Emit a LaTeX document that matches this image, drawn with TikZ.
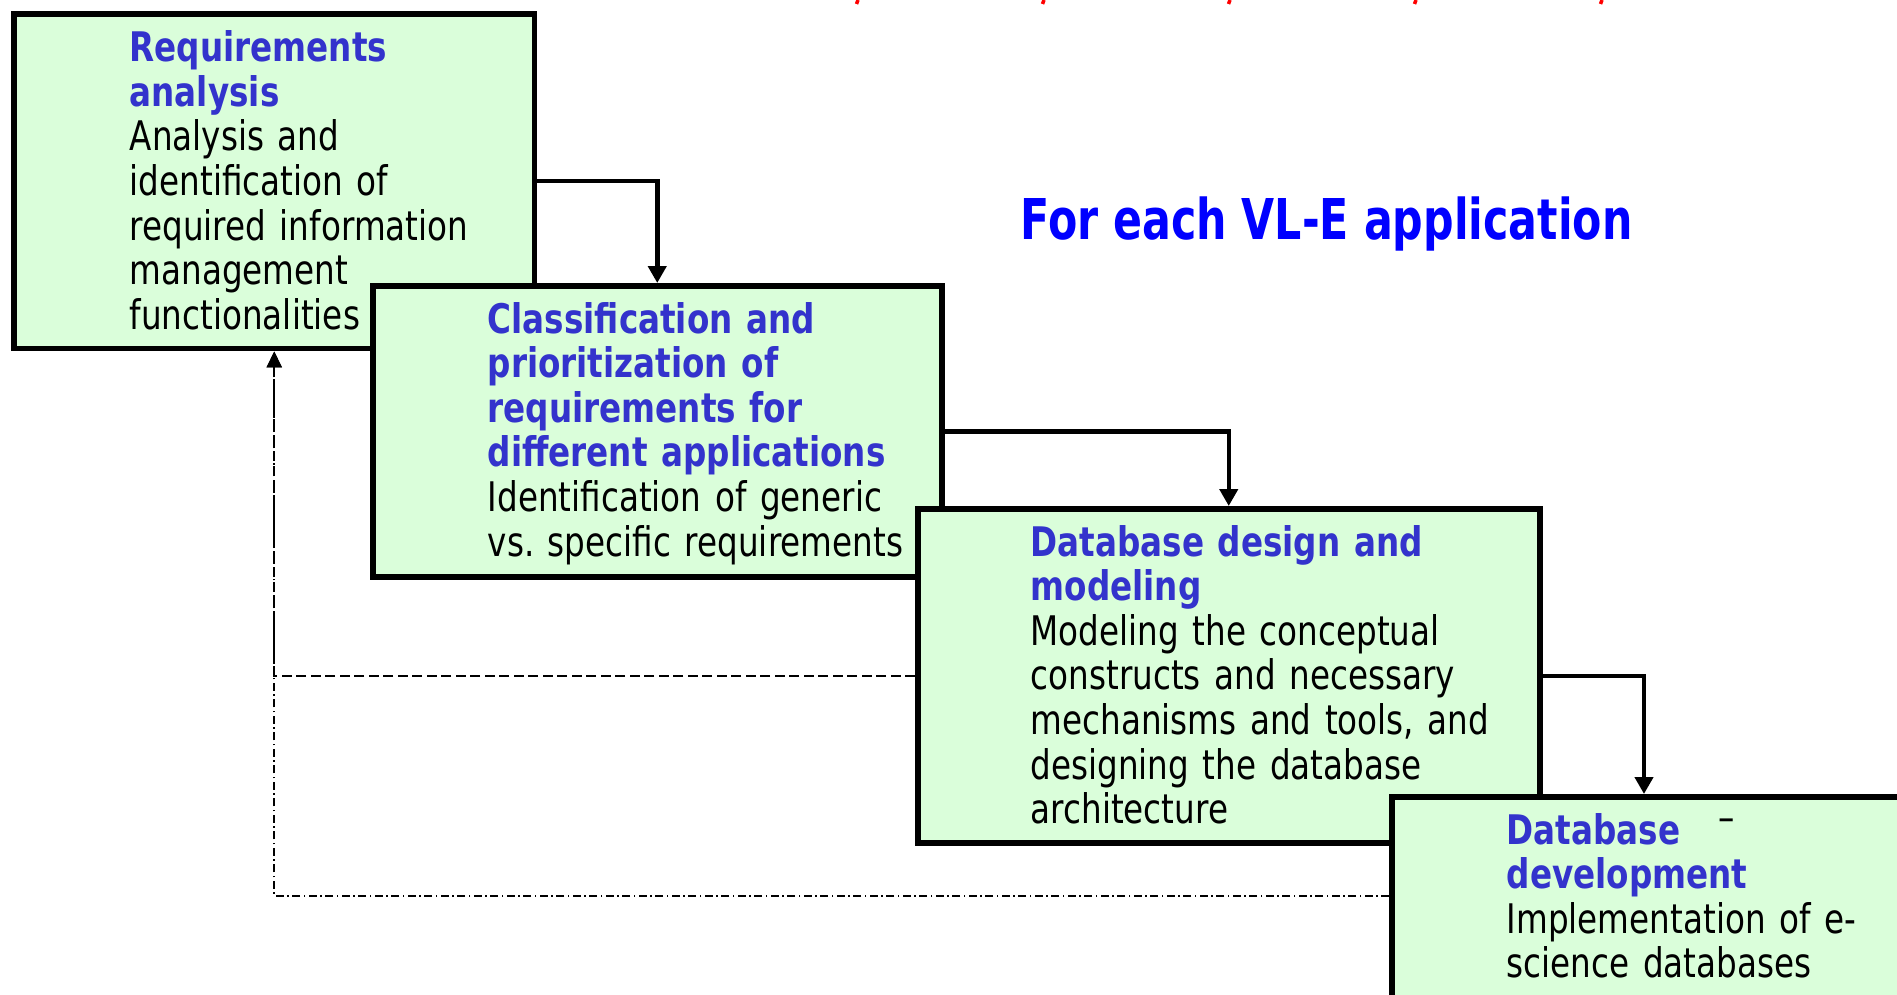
\documentclass[tikz,border=0pt]{standalone}
\usepackage{fontspec}
\setmainfont{DejaVu Sans}[FakeStretch=0.8]
\newfontfamily\titlefont{DejaVu Sans}[FakeStretch=0.76]
\usetikzlibrary{arrows.meta}

\definecolor{boxgreen}{RGB}{218,254,218}
\definecolor{headblue}{RGB}{51,51,204}
\definecolor{titleblue}{RGB}{0,0,255}
\definecolor{markred}{RGB}{255,0,0}
\newcommand{\stagehead}[1]{\textcolor{headblue}{\textbf{#1}}}
\frenchspacing

\begin{document}
\begin{tikzpicture}[x=0.1mm, y=-0.1mm,
		stage/.style={shape=rectangle, draw, line width=0.55mm, fill=boxgreen, anchor=north west, inner sep=0pt},
		txt/.style={anchor=base west, align=left, text width=50mm, inner sep=0pt, font=\fontsize{11.6}{12.7}\selectfont},
		flow/.style={line width=0.45mm, -{Triangle[width=1.8mm,length=1.7mm]}},
		back/.style={line width=0.2mm, -{Triangle[width=1.5mm,length=1.6mm]}},
		loopdash/.style={dash pattern=on 1mm off 0.45mm},
		loopdashdot/.style={dash pattern=on 0.8mm off 0.35mm on 0.15mm off 0.35mm}]
	\useasboundingbox (0,0) rectangle (1897,995);
	\clip (0,0) rectangle (1897,995);

	% bits of the red line above
	\foreach \x in {857,1043,1229,1415,1601}
		\draw[markred, line width=0.35mm] (\x+1,0) -- (\x-0.5,4);

	\node[anchor=base west, inner sep=0pt, text=titleblue, font=\titlefont\fontsize{16}{19}\selectfont\bfseries] (title) at (1020,239) {For each VL-E application};

	% stages
	\node[stage, minimum width=52.1mm, minimum height=33.5mm] (req) at (11,11) {};
	\node[txt] (reqtxt) at (129,61.5) {\stagehead{Requirements}\\\stagehead{analysis}\\Analysis and\\identification of\\required information\\management\\functionalities};

	\node[stage, minimum width=56.9mm, minimum height=29.1mm] (cls) at (370,283) {};
	\node[txt] (clstxt) at (487,333) {\stagehead{Classification and}\\\stagehead{prioritization of}\\\stagehead{requirements for}\\\stagehead{different applications}\\Identification of generic\\vs. specific requirements};

	\node[stage, minimum width=62.2mm, minimum height=33.4mm] (dbd) at (915,506) {};
	\node[txt] (dbdtxt) at (1030,556) {\stagehead{Database design and}\\\stagehead{modeling}\\Modeling the conceptual\\constructs and necessary\\mechanisms and tools, and\\designing the database\\architecture};

	\node[stage, minimum width=55mm, minimum height=25mm] (dev) at (1389,794) {};
	\node[txt] (devtxt) at (1506,844) {\stagehead{Database}\\\stagehead{development}\\Implementation of e-\\science databases};
	\node[inner sep=0pt, font=\fontsize{11.6}{12.7}\selectfont] (devdash) at (1727,825) {–};

	% forward
	\draw[flow] (req.east) -| (cls.north);
	\draw[flow] (cls.east) -| (dbd.north);
	\draw[flow] (dbd.east) -| ([xshift=25.5mm]dev.north west);

	% back to the requirements
	\draw[back, loopdash] (dbd.west) -| (req.south);
	\draw[back, loopdashdot] ([yshift=-10.2mm]dev.north west) -| (req.south);
\end{tikzpicture}
\end{document}
